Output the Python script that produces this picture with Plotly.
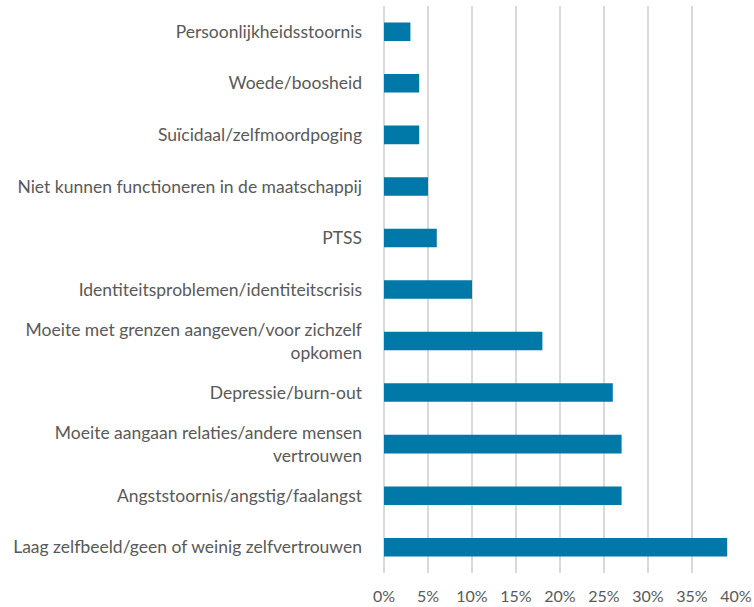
import plotly.graph_objects as go

categories = [
    "Laag zelfbeeld/geen of weinig zelfvertrouwen",
    "Angststoornis/angstig/faalangst",
    "Moeite aangaan relaties/andere mensen<br>vertrouwen",
    "Depressie/burn-out",
    "Moeite met grenzen aangeven/voor zichzelf<br>opkomen",
    "Identiteitsproblemen/identiteitscrisis",
    "PTSS",
    "Niet kunnen functioneren in de maatschappij",
    "Suïcidaal/zelfmoordpoging",
    "Woede/boosheid",
    "Persoonlijkheidsstoornis",
]
values = [0.39, 0.27, 0.27, 0.26, 0.18, 0.10, 0.06, 0.05, 0.04, 0.04, 0.03]
x_ticks = [0, 0.05, 0.10, 0.15, 0.20, 0.25, 0.30, 0.35, 0.40]
x_tick_labels = ["0%", "5%", "10%", "15%", "20%", "25%", "30%", "35%", "40%"]

fig = go.Figure(go.Bar(
    x=values, y=categories, orientation="h",
    marker=dict(color="#0079A8", line=dict(width=0)),
    width=0.36,
))

font_family = "Lato, Open Sans, Liberation Sans, sans-serif"
fig.update_layout(
    width=754, height=607,
    margin=dict(l=384, r=18, t=6, b=34, autoexpand=False),
    paper_bgcolor="white", plot_bgcolor="white",
    showlegend=False,
    font=dict(family=font_family, size=17.5, color="#595959"),
)
fig.update_xaxes(
    range=[0, 0.40], tickvals=x_ticks, ticktext=x_tick_labels,
    showgrid=True, gridcolor="#d9d9d9", gridwidth=1.5,
    zeroline=True, zerolinecolor="#d9d9d9", zerolinewidth=1.5,
    showline=False, ticks="", ticklabelstandoff=12, automargin=False,
    tickfont=dict(size=16, color="#595959"),
)
fig.update_yaxes(
    showgrid=False, zeroline=False, showline=False, automargin=False,
    ticks="", ticklabelstandoff=21,
    tickfont=dict(size=17.5, color="#595959"),
)

fig.write_html("out.html", config={"displayModeBar": False},
               post_script="document.body.style.margin='0';")
